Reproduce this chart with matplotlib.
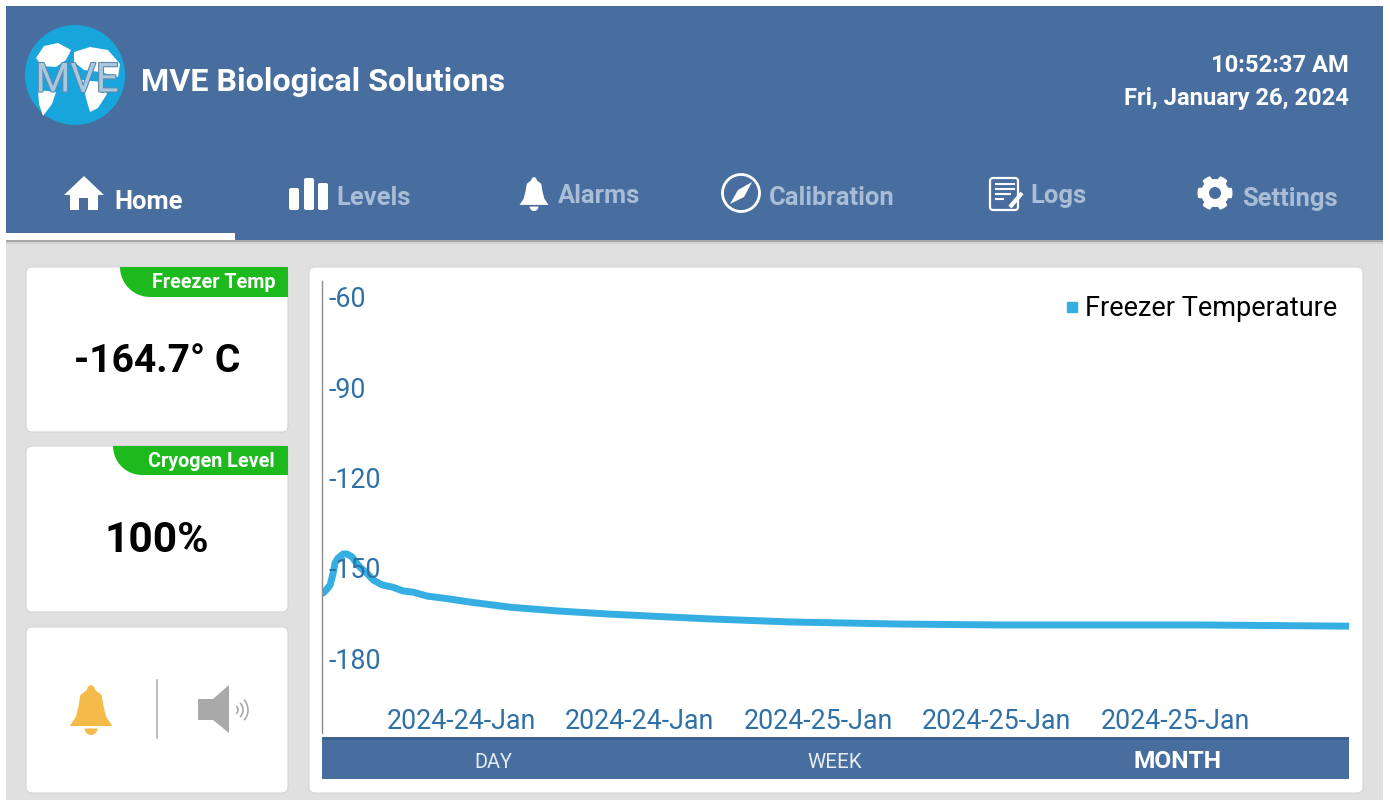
# pantalla del congelador MVE: interfaz dibujada en pixeles, grafica con ejes reales

import matplotlib
matplotlib.use('Agg')
import matplotlib.dates as mdates
import matplotlib.patheffects as pe
import matplotlib.pyplot as plt
import numpy as np
import pandas as pd
from matplotlib.lines import Line2D
from matplotlib.patches import Circle, FancyBboxPatch, Polygon, Rectangle, Wedge

plt.rcParams['font.family'] = ['Roboto', 'DejaVu Sans']
plt.rcParams['axes.unicode_minus'] = False

# datos
fechas = ['2024-01-24 05:49', '2024-01-24 05:57', '2024-01-24 06:08', '2024-01-24 06:16',
          '2024-01-24 06:21', '2024-01-24 06:29', '2024-01-24 06:43', '2024-01-24 06:53',
          '2024-01-24 07:07', '2024-01-24 07:15', '2024-01-24 07:28', '2024-01-24 07:47',
          '2024-01-24 08:04', '2024-01-24 08:28', '2024-01-24 08:55', '2024-01-24 09:24',
          '2024-01-24 09:51', '2024-01-24 10:29', '2024-01-24 11:31', '2024-01-24 12:24',
          '2024-01-24 14:12', '2024-01-24 16:26', '2024-01-24 18:41', '2024-01-24 23:10',
          '2024-01-25 02:45', '2024-01-25 07:41', '2024-01-25 12:10', '2024-01-25 16:38',
          '2024-01-25 21:07', '2024-01-26 03:48']
temperaturas = [-158.4, -157.4, -155.7, -151.8, -148.4, -146.8, -145.4, -145.4,
                -146.4, -147.8, -149.8, -151.8, -154.1, -155.7, -156.4, -157.7,
                -158.1, -159.4, -160.4, -161.4, -163.1, -164.4, -165.4, -167.0,
                -168.0, -168.7, -169.0, -169.0, -169.0, -169.4]
ticks_y = [-60, -90, -120, -150, -180]
ticks_x = ['2024-01-24 12:00', '2024-01-24 20:00', '2024-01-25 04:00',
           '2024-01-25 12:00', '2024-01-25 20:00']
nombre_serie = 'Freezer Temperature'
menu = ['Home', 'Levels', 'Alarms', 'Calibration', 'Logs', 'Settings']
rangos = ['DAY', 'WEEK', 'MONTH']

AZUL = '#486e9f'
GRIS = '#e0e0e0'
VERDE = '#1db91d'
CELESTE = '#35aee2'
TICK = '#2f70a6'
W, H = 1390, 806


def px(tam):
    # tamano de letra en pixeles a puntos
    return tam * 0.72


def tarjeta(ui, x0, y0, x1, y1, r=6):
    ui.add_patch(FancyBboxPatch((x0 + r, y0 + r), x1 - x0 - 2 * r, y1 - y0 - 2 * r,
                                boxstyle='round,pad=%d,rounding_size=%d' % (r, r),
                                fc='white', ec='#d4d4d4', lw=0.8))


def etiqueta_verde(ui, x0, y0, x1, y1, texto):
    # pestana con la esquina inferior izquierda redonda
    r = y1 - y0
    t = np.linspace(np.pi / 2, np.pi, 14)
    curva = np.column_stack([x0 + r + r * np.cos(t), y0 + r * np.sin(t)])
    ui.add_patch(Polygon(np.vstack([[[x1, y0], [x1, y1]], curva]), fc=VERDE, ec='none'))
    ui.text(x1 - 13, (y0 + y1) / 2 + 1, texto, color='white', fontsize=px(19.8), fontweight='bold',
            ha='right', va='center')


def campana(ui, cx, cy, h, color, zorder=3):
    # campana con forma simple, cy es el centro
    w = h * 0.85
    perfil = [(0, -0.5), (0.07, -0.47), (0.1, -0.40), (0.25, -0.30), (0.3, -0.05), (0.36, 0.14),
              (0.5, 0.32), (-0.5, 0.32), (-0.36, 0.14), (-0.3, -0.05), (-0.25, -0.30), (-0.1, -0.40), (-0.07, -0.47)]
    pts = [(cx + a * w, cy + b * h) for a, b in perfil]
    ui.add_patch(Polygon(pts, fc=color, ec='none', zorder=zorder))
    ui.add_patch(Wedge((cx, cy + 0.37 * h), 0.13 * h, 0, 180, fc=color, ec='none', zorder=zorder))


fig = plt.figure(figsize=(W / 100, H / 100), dpi=100, facecolor='white')

# capa de interfaz en coordenadas de pixel
ui = fig.add_axes([0, 0, 1, 1])
ui.set_xlim(0, W)
ui.set_ylim(H, 0)
ui.axis('off')

ui.add_patch(Rectangle((6, 240), 1377, 560, fc=GRIS, ec='none'))
ui.add_patch(Rectangle((6, 6), 1377, 234, fc=AZUL, ec='none'))
ui.add_patch(Rectangle((6, 240), 1377, 1.5, fc='#a8a8a8', ec='none'))
ui.add_patch(Rectangle((6, 241.5), 1377, 2, fc='#d0d0d0', ec='none'))
ui.add_patch(Rectangle((6, 233), 229, 7, fc='white', ec='none'))

# logo
ui.add_patch(Circle((75, 75), 50, fc='#18a5dc', ec='none'))
continentes = [
    [(36, 58), (44, 46), (58, 43), (71, 50), (66, 60), (56, 67), (42, 66)],
    [(74, 52), (90, 47), (108, 50), (120, 64), (118, 77), (100, 72), (84, 70), (74, 62)],
    [(82, 80), (102, 82), (107, 94), (98, 108), (90, 112), (86, 98)],
    [(38, 90), (56, 92), (52, 104), (43, 116), (39, 104)],
]
for c in continentes:
    ui.add_patch(Polygon(c, fc='white', ec='none'))
ui.text(77, 80, 'MVE', fontsize=px(40), color='#a9c8dd', ha='center', va='center',
        path_effects=[pe.withStroke(linewidth=1.6, foreground='#5d88ad')])

ui.text(141, 82, 'MVE Biological Solutions', fontsize=px(32.3), color='white', fontweight='bold',
        ha='left', va='center')
ui.text(1349, 66, '10:52:37 AM', fontsize=px(23.8), color='white', fontweight='bold', ha='right', va='center')
ui.text(1349, 99, 'Fri, January 26, 2024', fontsize=px(23.8), color='white', fontweight='bold', ha='right', va='center')

# menu
apagado = '#a9bdd6'
pos_menu = [(114, 202), (336, 198), (558, 196), (769, 198), (1030, 196), (1242, 199)]
for i, nombre in enumerate(menu):
    ui.text(pos_menu[i][0], pos_menu[i][1], nombre, fontsize=px(25.5), fontweight='bold',
            color='white' if i == 0 else apagado, ha='left', va='center')

# casa
ui.add_patch(Polygon([(64, 195), (84, 176), (104, 195), (98, 195), (98, 210), (88, 210), (88, 198),
                      (79, 198), (79, 210), (70, 210), (70, 195)], fc='white', ec='none'))
# barras
for x, y in [(289, 188), (304, 178), (318, 183)]:
    ui.add_patch(FancyBboxPatch((x + 2, y + 2), 6, 206 - y, boxstyle='round,pad=2,rounding_size=2', fc='white', ec='none'))
# campana del menu
campana(ui, 534, 194, 34, 'white')
# brujula
ui.add_patch(Circle((741, 193), 18.5, fc='none', ec='white', lw=2))
ui.add_patch(Polygon([(752, 182), (744, 197), (730, 204), (738, 190)], fc='white', ec='none'))
# notas
ui.add_patch(FancyBboxPatch((992, 180), 24, 28, boxstyle='round,pad=2,rounding_size=3', fc='none', ec='white', lw=1.6))
for y, x1 in [(184, 1014), (189, 1014), (194, 1010), (199, 1003)]:
    ui.plot([996, x1], [y, y], color='white', lw=1.5)
ui.plot([1010, 1022], [207, 193], color='white', lw=3, solid_capstyle='butt')
# engrane
ang = np.linspace(0, 2 * np.pi, 64, endpoint=False)
rad = 17.5 - 3.5 * (np.cos(6 * ang) < -0.2)
ui.add_patch(Polygon(np.column_stack([1215 + rad * np.cos(ang), 193 + rad * np.sin(ang)]), fc='white', ec='none'))
ui.add_patch(Circle((1215, 193), 6, fc=AZUL, ec='none'))

# tarjetas izquierda
tarjeta(ui, 26, 267, 288, 432)
tarjeta(ui, 26, 446, 288, 612)
tarjeta(ui, 26, 627, 288, 793)
tarjeta(ui, 309, 267, 1363, 793)

etiqueta_verde(ui, 120, 267, 288, 297, 'Freezer Temp')
etiqueta_verde(ui, 113, 446, 288, 475, 'Cryogen Level')
ui.text(157, 361, '-164.7° C', fontsize=px(39), fontweight='bold', color='black', ha='center', va='center')
ui.text(157, 541, '100%', fontsize=px(42.5), fontweight='bold', color='black', ha='center', va='center')

# alarma y sonido
campana(ui, 91, 710, 50, '#f4bb4a')
ui.plot([157, 157], [680, 738], color='#b0b0b0', lw=1.2)
ui.add_patch(Polygon([(198, 699), (213, 699), (229, 685), (229, 733), (213, 720), (198, 720)], fc='#a9a9a9', ec='none'))
for r in [5, 10, 15]:
    t = np.linspace(-0.7, 0.7, 20)
    ui.plot(233 + r * np.cos(t), 710 + r * np.sin(t), color='#a9a9a9', lw=1.2)

# barra inferior
ui.add_patch(Rectangle((322, 738), 1027, 41, fc=AZUL, ec='none'))
ui.add_patch(Rectangle((322, 737), 1027, 3, fc='#3f618d', ec='none'))
ui.text(493, 762, rangos[0], fontsize=px(20), color='#e6ecf3', ha='center', va='center')
ui.text(835, 762, rangos[1], fontsize=px(20.5), color='#e6ecf3', ha='center', va='center')
ui.text(1178, 762, rangos[2], fontsize=px(24.5), color='white', fontweight='bold', ha='center', va='center')

# grafica
ax = fig.add_axes([322 / W, 1 - 733 / H, 1027 / W, 452 / H])
ax.patch.set_alpha(0)
x = pd.to_datetime(fechas)
ax.plot(x, temperaturas, color=CELESTE, lw=5, solid_capstyle='round', solid_joinstyle='round')
ax.set_xlim(pd.Timestamp('2024-01-24 05:46'), pd.Timestamp('2024-01-26 03:48'))
ax.set_ylim(-204.9, -54.7)
ax.set_axisbelow(False)

ax.set_yticks(ticks_y)
ax.set_xticks(pd.to_datetime(ticks_x))
ax.xaxis.set_major_formatter(mdates.DateFormatter('%Y-%d-%b'))
ax.tick_params(axis='y', length=0, pad=-4.5, labelsize=px(26.7), labelcolor=TICK)
ax.tick_params(axis='x', length=0, pad=-18, labelsize=px(26.7), labelcolor=TICK)
for lab in ax.get_yticklabels():
    lab.set_ha('left')

for lado in ['top', 'right', 'bottom']:
    ax.spines[lado].set_visible(False)
ax.spines['left'].set_color('#8c8c8c')
ax.spines['left'].set_linewidth(1)

marca = Line2D([], [], marker='s', ls='', color=CELESTE, markersize=7)
ax.legend([marca], [nombre_serie], loc='upper right', frameon=False, fontsize=px(27.1),
          handlelength=0.5, handletextpad=0.24, bbox_to_anchor=(0.999, 0.992), borderaxespad=0,
          labelcolor='black')

fig.savefig('out.png', dpi=100)
